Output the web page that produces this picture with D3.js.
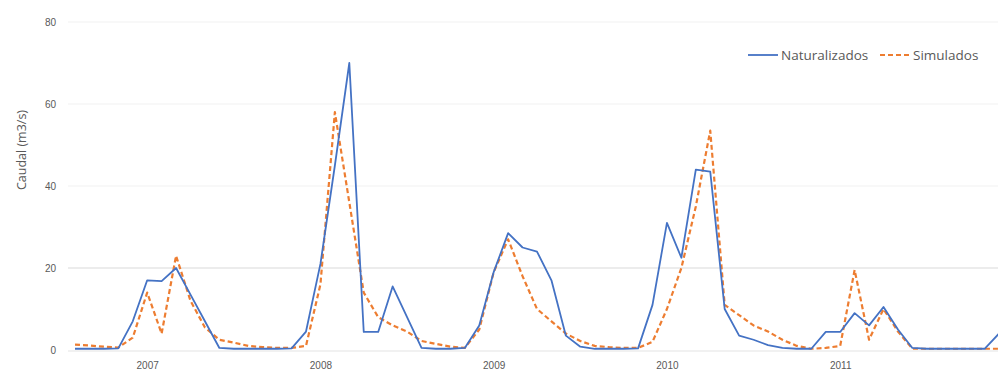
<!DOCTYPE html>
<html>
<head>
<meta charset="utf-8">
<script src="https://cdn.jsdelivr.net/npm/d3@7"></script>
<style>
  html, body { margin: 0; padding: 0; background: #fff; }
  svg { display: block; font-family: "Open Sans", "Liberation Sans", sans-serif; }
</style>
</head>
<body>
<svg id="chart" width="998" height="380"></svg>
<script>
// ---- data (monthly flows, m3/s) ----
const yearLabels = ["2007", "2008", "2009", "2010", "2011"];
const firstYearLabelIndex = 5;   // month index where the first year label sits
const monthsPerYear = 12;
const yTicks = [0, 20, 40, 60, 80];
const seriesNames = ["Naturalizados", "Simulados"];

const naturalizados = [
  0.3, 0.3, 0.3, 0.4, 7, 17, 16.8, 20, 13.5, 7, 0.5, 0.3,
  0.3, 0.3, 0.3, 0.4, 4.5, 21, 45, 70, 4.4, 4.4, 15.5, 8,
  0.5, 0.3, 0.3, 0.5, 6, 19, 28.5, 25, 24, 17, 3.5, 0.8,
  0.3, 0.3, 0.3, 0.4, 11, 31, 22.5, 44, 43.5, 10, 3.5, 2.5,
  1.2, 0.5, 0.3, 0.3, 4.4, 4.4, 9, 6, 10.5, 5, 0.5, 0.3,
  0.3, 0.3, 0.3, 0.3, 4
];
const simulados = [
  1.3, 1.1, 0.8, 0.6, 3, 14, 4, 23, 12, 5.5, 2.5, 1.8,
  1, 0.7, 0.5, 0.5, 1, 16, 58, 36, 14, 8, 6, 4.5,
  2.2, 1.5, 0.8, 0.5, 5, 19, 27, 18, 10, 7, 4, 2.2,
  1, 0.7, 0.5, 0.5, 2, 10, 20, 35, 53.5, 11, 8.5, 6,
  4.5, 2.5, 1, 0.3, 0.5, 1, 19.5, 2.5, 10, 4.5, 0.3, 0.3,
  0.3, 0.3, 0.3, 0.3, 0.3
];

// ---- layout ----
const svg = d3.select("#chart");
const plot = { left: 68, right: 998, top: 22, bottom: 350 };

const x = d3.scaleLinear().domain([0, naturalizados.length - 1]).range([75, 999]);
const y = d3.scaleLinear().domain([0, 80]).range([plot.bottom, plot.top]);

// gridlines
svg.append("g").selectAll("line").data(yTicks.filter(d => d > 0)).join("line")
  .attr("x1", plot.left).attr("x2", plot.right)
  .attr("y1", d => y(d)).attr("y2", d => y(d))
  .attr("stroke", d => d === 20 ? "#d9d9d9" : "#f1f1f1")
  .attr("stroke-width", 1.2);

// baseline
svg.append("line")
  .attr("x1", plot.left).attr("x2", plot.right)
  .attr("y1", y(0) + 1).attr("y2", y(0) + 1)
  .attr("stroke", "#e3e3e3").attr("stroke-width", 1);

// y axis
const yAxis = svg.append("g")
  .attr("transform", `translate(${plot.left - 12},0)`)
  .call(d3.axisLeft(y).tickValues(yTicks).tickSize(0).tickPadding(0));
yAxis.select(".domain").remove();
yAxis.selectAll("text").attr("fill", "#595959").style("font-size", "10px");

// x axis
const xTickIdx = yearLabels.map((_, i) => firstYearLabelIndex + i * monthsPerYear);
const xAxis = svg.append("g")
  .attr("transform", `translate(0,${plot.bottom + 12})`)
  .call(d3.axisBottom(x).tickValues(xTickIdx).tickFormat((d, i) => yearLabels[i]).tickSize(0).tickPadding(0));
xAxis.select(".domain").remove();
xAxis.selectAll("text").attr("fill", "#595959").style("font-size", "10px");

// y title
svg.append("text")
  .attr("transform", `translate(26,150) rotate(-90)`)
  .attr("text-anchor", "middle")
  .attr("fill", "#595959")
  .style("font-size", "12.5px")
  .text("Caudal (m3/s)");

// lines
const line = d3.line().x((d, i) => x(i)).y(d => y(d));
svg.append("path").datum(simulados)
  .attr("fill", "none").attr("stroke", "#ED7D31").attr("stroke-width", 2.2)
  .attr("stroke-dasharray", "5,3").attr("stroke-linejoin", "round")
  .attr("d", line);
svg.append("path").datum(naturalizados)
  .attr("fill", "none").attr("stroke", "#4472C4").attr("stroke-width", 1.8)
  .attr("stroke-linejoin", "round")
  .attr("d", line);

// legend
const legend = svg.append("g").attr("transform", "translate(748,55)");
const legItems = [
  { name: seriesNames[0], color: "#4472C4", dash: null, x: 0, w: 1.8 },
  { name: seriesNames[1], color: "#ED7D31", dash: "5,3", x: 132, w: 2.2 }
];
legItems.forEach(it => {
  const g = legend.append("g").attr("transform", `translate(${it.x},0)`);
  g.append("line").attr("x1", 0).attr("x2", 30).attr("y1", 0).attr("y2", 0)
    .attr("stroke", it.color).attr("stroke-width", it.w)
    .attr("stroke-dasharray", it.dash);
  g.append("text").attr("x", 33).attr("y", 0).attr("dy", "0.35em")
    .attr("fill", "#595959").style("font-size", "13.5px").text(it.name);
});
</script>
</body>
</html>
